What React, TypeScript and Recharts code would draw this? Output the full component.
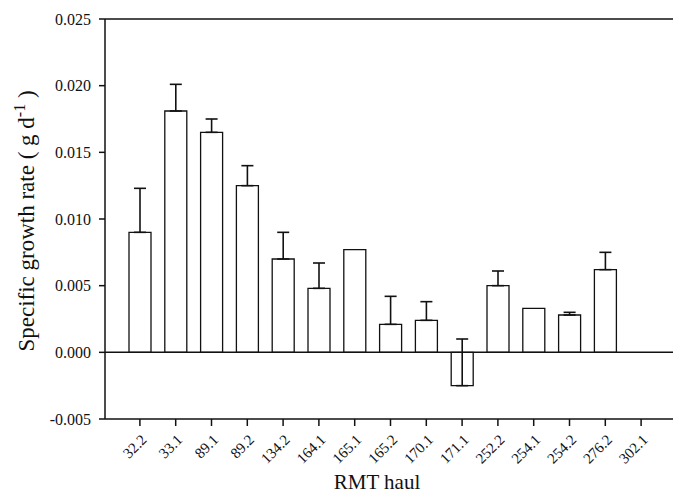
import React from 'react';
import {
  BarChart,
  Bar,
  XAxis,
  YAxis,
  ErrorBar,
  ReferenceLine,
  Label,
} from 'recharts';

const hauls = [
  '32.2', '33.1', '89.1', '89.2', '134.2', '164.1', '165.1', '165.2',
  '170.1', '171.1', '252.2', '254.1', '254.2', '276.2', '302.1',
];

const growthRates = [
  0.009, 0.0181, 0.0165, 0.0125, 0.007, 0.0048, 0.0077, 0.0021,
  0.0024, -0.0025, 0.005, 0.0033, 0.0028, 0.0062, null,
];

// one-sided (upper) standard error for each haul
const upperErrors = [
  0.0033, 0.002, 0.001, 0.0015, 0.002, 0.0019, null, 0.0021,
  0.0014, 0.0035, 0.0011, null, 0.0002, 0.0013, null,
];

const yTicks = [-0.005, 0, 0.005, 0.01, 0.015, 0.02, 0.025];

const data = hauls.map((haul, i) => ({
  haul,
  rate: growthRates[i],
  err: upperErrors[i] == null ? null : [0, upperErrors[i]],
}));

const FONT = '"Liberation Serif", "Times New Roman", serif';
const INK = '#111';

function HaulTick({ x, y, payload }: any) {
  return (
    <g transform={`translate(${x + 4},${y + 9})`}>
      <text
        x={0}
        y={0}
        dy="0.35em"
        textAnchor="end"
        transform="rotate(-45)"
        fontFamily={FONT}
        fontSize={15}
        fill={INK}
      >
        {payload.value}
      </text>
    </g>
  );
}

function RateAxisLabel({ viewBox }: any) {
  const cx = 34;
  const cy = viewBox.y + viewBox.height / 2 + 2;
  return (
    <text
      x={cx}
      y={cy}
      textAnchor="middle"
      transform={`rotate(-90, ${cx}, ${cy})`}
      fontFamily={FONT}
      fontSize={23}
      fill={INK}
    >
      Specific growth rate ( g d
      <tspan dy={-9} fontSize={16}>-1</tspan>
      <tspan dy={9}> )</tspan>
    </text>
  );
}

export default function App() {
  return (
    <div style={{ position: 'absolute', left: 0, top: 0, background: '#fff' }}>
      <BarChart
        width={673}
        height={493}
        data={data}
        margin={{ top: 19, right: 0, bottom: 0, left: 0 }}
        barSize={22}
      >
        <XAxis
          dataKey="haul"
          height={74}
          padding={{ left: 17, right: 14 }}
          tick={<HaulTick />}
          tickSize={7}
          interval={0}
          axisLine={{ stroke: INK, strokeWidth: 1.5 }}
          tickLine={{ stroke: INK, strokeWidth: 1.5 }}
        >
          <Label
            value="RMT haul"
            position="insideBottom"
            offset={4}
            fontFamily={FONT}
            fontSize={21}
            fill={INK}
            dx={-12}
          />
        </XAxis>
        <YAxis
          width={105}
          domain={[-0.005, 0.025]}
          ticks={yTicks}
          allowDataOverflow
          tickFormatter={(v: number) => v.toFixed(3)}
          tick={{ fontFamily: FONT, fontSize: 16, fill: INK }}
          tickSize={6}
          tickMargin={8}
          axisLine={{ stroke: INK, strokeWidth: 1.5 }}
          tickLine={{ stroke: INK, strokeWidth: 1.5 }}
          label={<RateAxisLabel />}
        />
        <ReferenceLine y={0.025} stroke={INK} strokeWidth={1.5} />
        <ReferenceLine y={0} stroke={INK} strokeWidth={1.5} />
        <Bar
          dataKey="rate"
          fill="#ffffff"
          stroke={INK}
          strokeWidth={1.3}
          isAnimationActive={false}
        >
          <ErrorBar
            dataKey="err"
            width={6}
            stroke={INK}
            strokeWidth={1.6}
            direction="y"
          />
        </Bar>
      </BarChart>
    </div>
  );
}
